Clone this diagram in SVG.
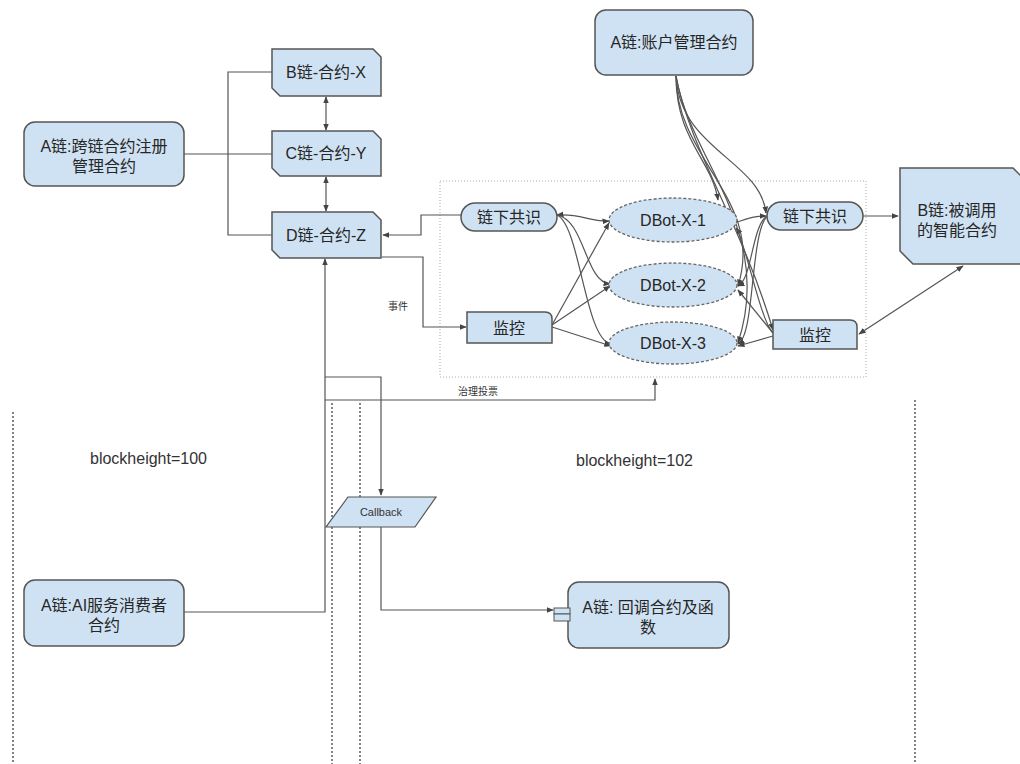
<svg xmlns="http://www.w3.org/2000/svg" width="1020" height="764" viewBox="0 0 1020 764">
<defs>
<style>
.n{fill:#cfe2f3;stroke:#555;stroke-width:1.5}
.e{fill:#cfe2f3;stroke:#666;stroke-width:1.3;stroke-dasharray:3,2}
.t{font-family:"Liberation Sans","Noto Sans CJK SC",sans-serif;font-size:16px;fill:#262626;text-anchor:middle}
.s{font-family:"Liberation Sans","Noto Sans CJK SC",sans-serif;font-size:10px;fill:#333;text-anchor:middle}
.b{font-family:"Liberation Sans","Noto Sans CJK SC",sans-serif;font-size:16px;fill:#333}
.c{fill:none;stroke:#555;stroke-width:1.2}
.v{fill:none;stroke:#333;stroke-width:1.2;stroke-dasharray:2,2}
</style>
<marker id="a" viewBox="0 0 10 10" refX="9" refY="5" markerWidth="6" markerHeight="6" orient="auto-start-reverse">
<path d="M0,1 L10,5 L0,9 z" fill="#444"/>
</marker>
</defs>
<rect width="1020" height="764" fill="#fff"/>

<g id="lanes">
<line class="v" x1="13" y1="412" x2="13" y2="764"/>
<line class="v" x1="332" y1="403" x2="332" y2="764"/>
<line class="v" x1="360" y1="403" x2="360" y2="764"/>
<line class="v" x1="915" y1="400" x2="915" y2="764"/>
<rect x="440" y="181" width="426" height="196" fill="none" stroke="#aaa" stroke-width="1" stroke-dasharray="1,2"/>
<text class="b" x="90" y="464">blockheight=100</text>
<text class="b" x="576" y="466">blockheight=102</text>
</g>

<g id="connectors">
<path class="c" d="M184,154 L272,154"/>
<path class="c" d="M272,72 L228,72 L228,235 L272,235"/>
<path class="c" d="M326,97 L326,130" marker-start="url(#a)" marker-end="url(#a)"/>
<path class="c" d="M326,177 L326,211" marker-start="url(#a)" marker-end="url(#a)"/>
<path class="c" d="M461,215 L421,215 L421,235 L383,235" marker-end="url(#a)"/>
<path class="c" d="M382,257 L423,257 L423,327 L466,327" marker-end="url(#a)"/>
<path class="c" d="M184,612 L325,612 L325,259" marker-end="url(#a)"/>
<path class="c" d="M325,377 L381,377 L381,495" marker-end="url(#a)"/>
<path class="c" d="M325,400 L655,400 L655,379" marker-end="url(#a)"/>
<path class="c" d="M381,527 L381,610 L553,610" marker-end="url(#a)"/>
<path class="c" d="M557,215 C580,213 590,222 609,221" marker-start="url(#a)" marker-end="url(#a)"/>
<path class="c" d="M557,215 C585,220 585,282 610,284" marker-end="url(#a)"/>
<path class="c" d="M557,215 C580,225 585,340 611,344" marker-end="url(#a)"/>
<path class="c" d="M552,325 L609,223" marker-end="url(#a)"/>
<path class="c" d="M552,325 L610,286" marker-end="url(#a)"/>
<path class="c" d="M552,327 L611,346" marker-end="url(#a)"/>
<path class="c" d="M737,222 C750,218 755,216 766,216" marker-end="url(#a)"/>
<path class="c" d="M767,216 C752,225 752,280 738,286" marker-end="url(#a)"/>
<path class="c" d="M767,216 C750,235 755,335 738,344" marker-end="url(#a)"/>
<path class="c" d="M773,333 C760,320 745,240 736,228" marker-end="url(#a)"/>
<path class="c" d="M773,333 L738,290" marker-end="url(#a)"/>
<path class="c" d="M773,336 L738,346" marker-end="url(#a)"/>
<path class="c" d="M676,76 C676,140 712,160 718,200" marker-end="url(#a)"/>
<path class="c" d="M676,76 C680,150 760,160 766,213" marker-end="url(#a)"/>
<path class="c" d="M676,76 C676,160 765,200 738,286" marker-end="url(#a)"/>
<path class="c" d="M676,76 C690,160 775,230 738,343" marker-end="url(#a)"/>
<path class="c" d="M676,76 C690,150 740,220 773,330" marker-end="url(#a)"/>
<path class="c" d="M863,216 L898,216" marker-end="url(#a)"/>
<path class="c" d="M859,334 L963,266" marker-start="url(#a)" marker-end="url(#a)"/>
<text class="s" x="398" y="310">事件</text>
<text class="s" x="478" y="395">治理投票</text>
</g>

<g id="n-cross">
<rect class="n" x="24" y="122" width="160" height="64" rx="11"/>
<text class="t" x="104" y="152">A链:跨链合约注册</text>
<text class="t" x="104" y="172">管理合约</text>
</g>
<g id="n-bx">
<path class="n" d="M272,49 L373,49 L381,57 L381,96 L280,96 L272,88 Z"/>
<text class="t" x="326" y="78">B链-合约-X</text>
</g>
<g id="n-cy">
<path class="n" d="M272,131 L373,131 L381,139 L381,176 L280,176 L272,168 Z"/>
<text class="t" x="326" y="159">C链-合约-Y</text>
</g>
<g id="n-dz">
<path class="n" d="M272,212 L373,212 L381,220 L381,258 L280,258 L272,250 Z"/>
<text class="t" x="326" y="241">D链-合约-Z</text>
</g>
<g id="n-account">
<rect class="n" x="595" y="10" width="158" height="65" rx="11"/>
<text class="t" x="674" y="48">A链:账户管理合约</text>
</g>
<g id="n-consensus-l">
<rect class="n" x="461" y="203" width="96" height="28" rx="14"/>
<text class="t" x="509" y="223">链下共识</text>
</g>
<g id="n-monitor-l">
<path class="n" d="M467,312 L545,312 Q552,312 552,319 L552,343 L467,343 Z"/>
<text class="t" x="509" y="334">监控</text>
</g>
<g id="n-dbot1">
<ellipse class="e" cx="673" cy="220" rx="64" ry="22"/>
<text class="t" x="673" y="226">DBot-X-1</text>
</g>
<g id="n-dbot2">
<ellipse class="e" cx="673" cy="285" rx="64" ry="22"/>
<text class="t" x="673" y="291">DBot-X-2</text>
</g>
<g id="n-dbot3">
<ellipse class="e" cx="673" cy="343" rx="64" ry="21"/>
<text class="t" x="673" y="349">DBot-X-3</text>
</g>
<g id="n-consensus-r">
<rect class="n" x="767" y="202" width="96" height="28" rx="14"/>
<text class="t" x="815" y="222">链下共识</text>
</g>
<g id="n-monitor-r">
<path class="n" d="M773,320 L850,320 Q857,320 857,327 L857,349 L773,349 Z"/>
<text class="t" x="815" y="341">监控</text>
</g>
<g id="n-bchain">
<path class="n" d="M900,168 L1013,168 L1030,185 L1030,264 L913,264 L900,251 Z"/>
<text class="t" x="957" y="216">B链:被调用</text>
<text class="t" x="957" y="236">的智能合约</text>
</g>
<g id="n-ai">
<rect class="n" x="24" y="580" width="160" height="66" rx="11"/>
<text class="t" x="104" y="611">A链:AI服务消费者</text>
<text class="t" x="104" y="631">合约</text>
</g>
<g id="n-callback">
<path d="M348,497 L436,497 L415,527 L326,527 Z" fill="#cfe2f3" stroke="#555" stroke-width="1.2"/>
<text class="s" x="381" y="516" style="font-size:11px">Callback</text>
</g>
<g id="n-cbfunc">
<rect class="n" x="568" y="582" width="161" height="66" rx="11"/>
<rect x="554" y="608" width="16" height="6" fill="#cfe2f3" stroke="#555" stroke-width="1"/>
<rect x="554" y="614" width="16" height="7" fill="#cfe2f3" stroke="#555" stroke-width="1"/>
<text class="t" x="648" y="613">A链: 回调合约及函</text>
<text class="t" x="648" y="633">数</text>
</g>
</svg>
